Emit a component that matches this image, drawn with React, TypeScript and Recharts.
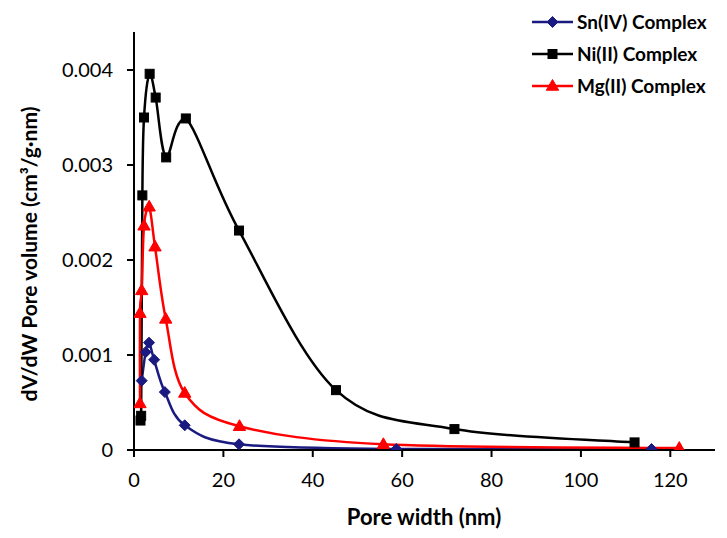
import React from "react";
import { LineChart, Line, XAxis, YAxis, Label } from "recharts";

const FONT = "Lato, 'Open Sans', 'Liberation Sans', sans-serif";

const xTicks = [0, 20, 40, 60, 80, 100, 120];
const yTicks = [0, 0.001, 0.002, 0.003, 0.004];

const snX = [1.72, 2.6, 3.36, 4.5, 6.9, 11.35, 23.5, 58.7, 115.8];
const snY = [0.00073, 0.00103, 0.00113, 0.00095, 0.00061, 0.00026, 0.00006, 0.00001, 0.00001];

const niX = [1.45, 1.6, 1.87, 2.24, 3.5, 4.85, 7.2, 11.6, 23.5, 45.2, 71.7, 112.0];
const niY = [0.00031, 0.00036, 0.00268, 0.0035, 0.00396, 0.00371, 0.00308, 0.00349, 0.00231, 0.00063, 0.00022, 0.00008];

const mgX = [1.34, 1.34, 1.72, 2.24, 3.4, 4.7, 7.1, 11.35, 23.6, 55.8, 122.0];
const mgY = [0.00049, 0.00144, 0.00168, 0.00236, 0.00256, 0.00214, 0.00138, 0.0006, 0.00025, 0.00006, 0.00002];

const seriesNames = ["Sn(IV) Complex", "Ni(II) Complex", "Mg(II) Complex"];
const seriesColors = ["#1a1a80", "#000000", "#ff0000"];
const seriesShapes = ["diamond", "square", "triangle"];

const toRows = (xs: number[], ys: number[]) => xs.map((x, i) => ({ x, y: ys[i] }));
const snData = toRows(snX, snY);
const niData = toRows(niX, niY);
const mgData = toRows(mgX, mgY);

const clamp = (v: number, a: number, b: number) => Math.max(Math.min(a, b), Math.min(Math.max(a, b), v));

// Excel-like smooth (cardinal / Catmull-Rom style) curve factory, with y overshoot limited
function smoothCurve(context: any) {
  let pts: [number, number][] = [];
  return {
    areaStart() {},
    areaEnd() {},
    lineStart() {
      pts = [];
    },
    lineEnd() {
      const n = pts.length;
      if (!n) return;
      context.moveTo(pts[0][0], pts[0][1]);
      for (let i = 0; i < n - 1; i++) {
        const p0 = pts[i - 1] || pts[i];
        const p1 = pts[i];
        const p2 = pts[i + 1];
        const p3 = pts[i + 2] || p2;
        const c1x = p1[0] + (p2[0] - p0[0]) / 6;
        const c1y = clamp(p1[1] + (p2[1] - p0[1]) / 6, p1[1], p2[1]);
        const c2x = p2[0] - (p3[0] - p1[0]) / 6;
        const c2y = clamp(p2[1] - (p3[1] - p1[1]) / 6, p1[1], p2[1]);
        context.bezierCurveTo(c1x, c1y, c2x, c2y, p2[0], p2[1]);
      }
    },
    point(x: number, y: number) {
      pts.push([+x, +y]);
    },
  };
}

function Marker({ shape, cx, cy, color }: { shape: string; cx: number; cy: number; color: string }) {
  if (shape === "diamond") {
    const r = 5.5;
    return <polygon points={`${cx},${cy - r} ${cx + r},${cy} ${cx},${cy + r} ${cx - r},${cy}`} fill={color} stroke={color} strokeWidth={1} />;
  }
  if (shape === "square") {
    const r = 4.5;
    return <rect x={cx - r} y={cy - r} width={2 * r} height={2 * r} fill={color} stroke={color} strokeWidth={1} />;
  }
  const r = 6.5;
  return (
    <polygon
      points={`${cx},${cy - r} ${cx + r * 0.95},${cy + r * 0.65} ${cx - r * 0.95},${cy + r * 0.65}`}
      fill={color}
      stroke={color}
      strokeWidth={1}
    />
  );
}

const makeDot = (idx: number) => (props: any) => {
  const { cx, cy, index } = props;
  if (cx == null || cy == null) return <g key={`d-${idx}-${index}`} />;
  return (
    <g key={`d-${idx}-${index}`}>
      <Marker shape={seriesShapes[idx]} cx={cx} cy={cy} color={seriesColors[idx]} />
    </g>
  );
};

const fmtY = (v: number) => (v === 0 ? "0" : v.toFixed(3));

function LegendBox() {
  return (
    <div style={{ position: "absolute", left: 528, top: 8 }}>
      <svg width={199} height={100}>
        {seriesNames.map((name, i) => {
          const y = 14 + i * 32;
          return (
            <g key={name}>
              <line x1={4} x2={45} y1={y} y2={y} stroke={seriesColors[i]} strokeWidth={2.5} />
              <Marker shape={seriesShapes[i]} cx={24.5} cy={y} color={seriesColors[i]} />
              <text x={49} y={y} dy="0.36em" fontFamily={FONT} fontWeight={700} fontSize={19} fill="#000">
                {name}
              </text>
            </g>
          );
        })}
      </svg>
    </div>
  );
}

export default function App() {
  const datasets = [snData, niData, mgData];
  return (
    <div style={{ position: "absolute", left: 0, top: 0, width: 727, height: 538, background: "#fff" }}>
      <LineChart width={727} height={538} margin={{ top: 32, right: 12, bottom: 38, left: 0 }}>
        <XAxis
          type="number"
          dataKey="x"
          domain={[0, 130]}
          ticks={xTicks}
          allowDataOverflow
          height={50}
          stroke="#000"
          strokeWidth={2}
          tickSize={7}
          tickMargin={16}
          tick={{ fill: "#000", fontSize: 20, fontFamily: FONT }}
        >
          <Label
            content={() => (
              <text x={424} y={517} dy="0.36em" textAnchor="middle" fontFamily={FONT} fontWeight={700} fontSize={22} fill="#000">
                Pore width (nm)
              </text>
            )}
          />
        </XAxis>
        <YAxis
          type="number"
          dataKey="y"
          domain={[0, 0.0044]}
          ticks={yTicks}
          allowDataOverflow
          width={134}
          stroke="#000"
          strokeWidth={2}
          tickSize={7}
          tickMargin={14}
          tickFormatter={fmtY}
          tick={{ fill: "#000", fontSize: 20, fontFamily: FONT }}
        >
          <Label
            content={() => (
              <text
                x={29}
                y={254}
                dy="0.36em"
                transform="rotate(-90, 29, 254)"
                textAnchor="middle"
                fontFamily={FONT}
                fontWeight={700}
                fontSize={21}
                fill="#000"
              >
                dV/dW Pore volume (cm³/g·nm)
              </text>
            )}
          />
        </YAxis>
        {datasets.map((d, i) => (
          <Line
            key={seriesNames[i]}
            data={d}
            dataKey="y"
            name={seriesNames[i]}
            type={smoothCurve as any}
            stroke={seriesColors[i]}
            strokeWidth={2.5}
            dot={makeDot(i)}
            activeDot={false}
            isAnimationActive={false}
          />
        ))}
      </LineChart>
      <LegendBox />
    </div>
  );
}
